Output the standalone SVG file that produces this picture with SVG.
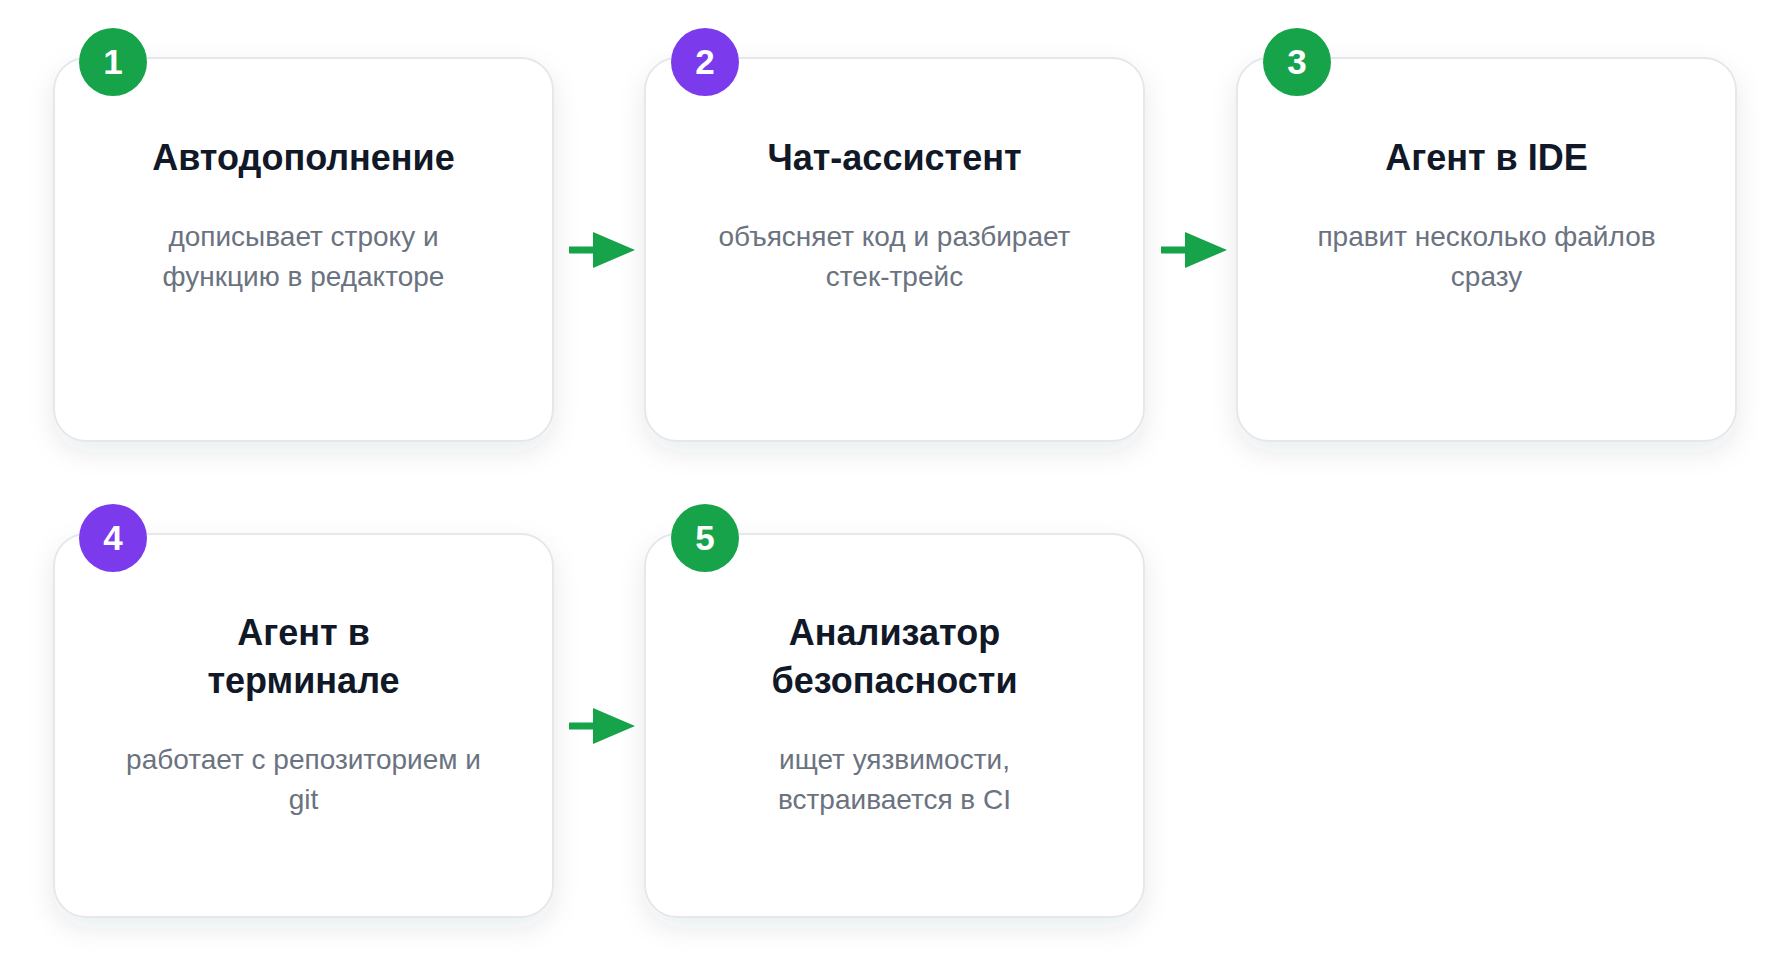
<svg xmlns="http://www.w3.org/2000/svg" width="1790" height="977" viewBox="0 0 1790 977">
<defs>
<filter id="shadow" x="-20%" y="-20%" width="140%" height="150%">
<feDropShadow dx="0" dy="10" stdDeviation="13" flood-color="#1e293b" flood-opacity="0.09"/>
</filter>
<marker id="arrowhead" viewBox="0 0 42 36" refX="1" refY="18" markerWidth="42" markerHeight="36" markerUnits="userSpaceOnUse" orient="auto">
<path d="M0,0 L42,18 L0,36 Z" fill="#16a34a"/>
</marker>
</defs>
<style>
.card{fill:#ffffff;stroke:#e5e7eb;stroke-width:2;filter:url(#shadow)}
.title{font-family:"Liberation Sans",Arial,sans-serif;font-weight:bold;font-size:36px;fill:#111827;text-anchor:middle}
.desc{font-family:"Liberation Sans",Arial,sans-serif;font-size:28px;fill:#6b7280;text-anchor:middle}
.num{font-family:"Liberation Sans",Arial,sans-serif;font-weight:bold;font-size:35px;fill:#ffffff;text-anchor:middle}
.green{fill:#16a34a}
.purple{fill:#7c3aed}
.conn{stroke:#16a34a;stroke-width:7;fill:none}
</style>
<rect width="1790" height="977" fill="#ffffff"/>

<g id="connectors">
<line class="conn" x1="569" y1="250" x2="594" y2="250" marker-end="url(#arrowhead)"/>
<line class="conn" x1="1161" y1="250" x2="1186" y2="250" marker-end="url(#arrowhead)"/>
<line class="conn" x1="569" y1="726" x2="594" y2="726" marker-end="url(#arrowhead)"/>
</g>

<g id="node1">
<rect class="card" x="54" y="58" width="499" height="383" rx="32"/>
<circle class="green" cx="113" cy="62" r="34"/>
<text class="num" x="113" y="74">1</text>
<text class="title" x="303.5" y="170">Автодополнение</text>
<text class="desc" x="303.5" y="246">дописывает строку и</text>
<text class="desc" x="303.5" y="286">функцию в редакторе</text>
</g>

<g id="node2">
<rect class="card" x="645" y="58" width="499" height="383" rx="32"/>
<circle class="purple" cx="705" cy="62" r="34"/>
<text class="num" x="705" y="74">2</text>
<text class="title" x="894.5" y="170">Чат-ассистент</text>
<text class="desc" x="894.5" y="246">объясняет код и разбирает</text>
<text class="desc" x="894.5" y="286">стек-трейс</text>
</g>

<g id="node3">
<rect class="card" x="1237" y="58" width="499" height="383" rx="32"/>
<circle class="green" cx="1297" cy="62" r="34"/>
<text class="num" x="1297" y="74">3</text>
<text class="title" x="1486.5" y="170">Агент в IDE</text>
<text class="desc" x="1486.5" y="246">правит несколько файлов</text>
<text class="desc" x="1486.5" y="286">сразу</text>
</g>

<g id="node4">
<rect class="card" x="54" y="534" width="499" height="383" rx="32"/>
<circle class="purple" cx="113" cy="538" r="34"/>
<text class="num" x="113" y="550">4</text>
<text class="title" x="303.5" y="645">Агент в</text>
<text class="title" x="303.5" y="693">терминале</text>
<text class="desc" x="303.5" y="769">работает с репозиторием и</text>
<text class="desc" x="303.5" y="809">git</text>
</g>

<g id="node5">
<rect class="card" x="645" y="534" width="499" height="383" rx="32"/>
<circle class="green" cx="705" cy="538" r="34"/>
<text class="num" x="705" y="550">5</text>
<text class="title" x="894.5" y="645">Анализатор</text>
<text class="title" x="894.5" y="693">безопасности</text>
<text class="desc" x="894.5" y="769">ищет уязвимости,</text>
<text class="desc" x="894.5" y="809">встраивается в CI</text>
</g>
</svg>
